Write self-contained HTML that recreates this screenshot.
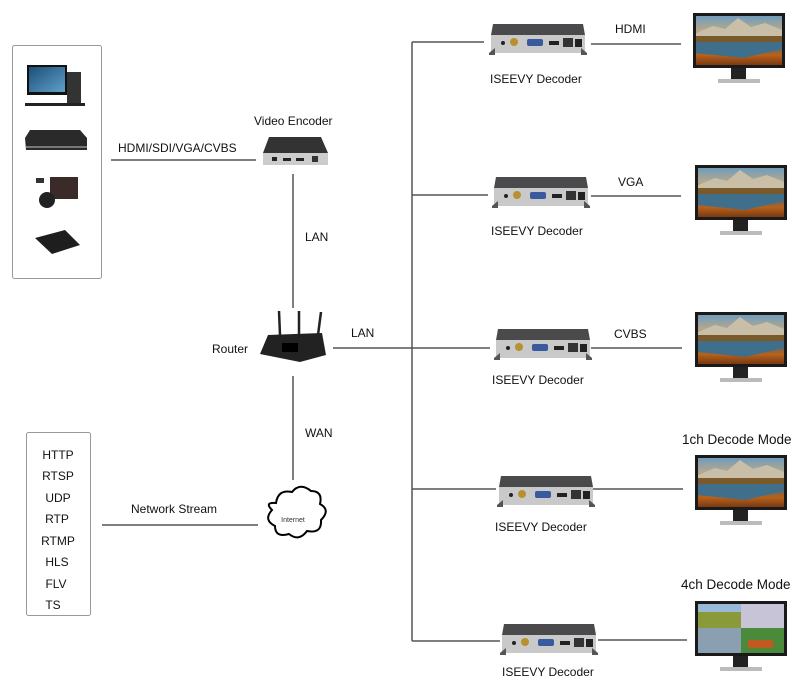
<!DOCTYPE html>
<html><head><meta charset="utf-8"><style>
html,body{margin:0;padding:0;background:#fff;}
svg{display:block;font-family:"Liberation Sans",Arial,sans-serif;}
</style></head><body>
<svg width="800" height="689" viewBox="0 0 800 689" xmlns="http://www.w3.org/2000/svg">
<defs>
  <linearGradient id="scr" x1="0" y1="0" x2="0" y2="1">
    <stop offset="0" stop-color="#6f9cbc"/>
    <stop offset="0.3" stop-color="#b9a98a"/>
    <stop offset="0.45" stop-color="#8a6a3a"/>
    <stop offset="0.6" stop-color="#3f6a80"/>
    <stop offset="0.8" stop-color="#b8621c"/>
    <stop offset="1" stop-color="#7a3a12"/>
  </linearGradient>
  <linearGradient id="pc" x1="0" y1="0" x2="1" y2="1">
    <stop offset="0" stop-color="#1c4f7a"/><stop offset="1" stop-color="#5fa0c8"/>
  </linearGradient>
  <g id="dec">
    <polygon points="4,0 94,0 96,11 2,11" fill="#4a4a4c"/>
    <rect x="2" y="11" width="94" height="18" fill="#c9c9c9"/>
    <polygon points="0,29 6,24 6,31 0,31" fill="#555"/>
    <polygon points="98,29 92,24 92,31 98,31" fill="#555"/>
    <circle cx="14" cy="19" r="2" fill="#222"/>
    <circle cx="25" cy="18" r="4" fill="#b89030"/>
    <rect x="38" y="15" width="16" height="7" rx="2" fill="#3a5aa0"/>
    <rect x="60" y="17" width="10" height="4" fill="#222"/>
    <rect x="74" y="14" width="10" height="9" fill="#333"/>
    <rect x="86" y="15" width="7" height="8" fill="#222"/>
  </g>
  <g id="mon">
    <rect x="0" y="0" width="92" height="55" fill="#1a1a1a"/>
    <rect x="3" y="3" width="86" height="49" fill="url(#scr)"/>
    <polygon points="3,20 20,13 32,16 45,5 58,14 72,10 89,17 89,23 3,23" fill="#c9bfa8"/>
    <rect x="3" y="23" width="86" height="6" fill="#7a5a2a"/>
    <polygon points="3,29 89,29 89,36 50,45 3,40" fill="#3f6f8a"/>
    <rect x="38" y="55" width="15" height="12" fill="#222"/>
    <rect x="25" y="66" width="42" height="4" fill="#bbb"/>
  </g>
</defs>

<g stroke="#555" stroke-width="1.5" fill="none">
  <line x1="111" y1="160" x2="256" y2="160"/>
  <line x1="293" y1="174" x2="293" y2="308"/>
  <line x1="293" y1="376" x2="293" y2="480"/>
  <line x1="333" y1="348" x2="412" y2="348"/>
  <line x1="412" y1="42" x2="412" y2="641"/>
  <line x1="412" y1="42" x2="484" y2="42"/>
  <line x1="412" y1="195" x2="488" y2="195"/>
  <line x1="412" y1="348" x2="490" y2="348"/>
  <line x1="412" y1="489" x2="496" y2="489"/>
  <line x1="412" y1="641" x2="500" y2="641"/>
  <line x1="591" y1="44" x2="681" y2="44"/>
  <line x1="591" y1="196" x2="681" y2="196"/>
  <line x1="591" y1="348" x2="682" y2="348"/>
  <line x1="593" y1="489" x2="683" y2="489"/>
  <line x1="598" y1="640" x2="687" y2="640"/>
  <line x1="102" y1="525" x2="258" y2="525"/>
</g>

<!-- source box -->
<rect x="12.5" y="45.5" width="89" height="233" fill="none" stroke="#999" rx="2"/>
<rect x="27" y="65" width="40" height="30" fill="#111"/>
<rect x="29" y="67" width="36" height="25" fill="url(#pc)"/>
<rect x="67" y="72" width="14" height="32" fill="#333"/>
<rect x="25" y="103" width="60" height="3" fill="#222"/>
<polygon points="30,130 80,130 87,138 87,150 26,150 25,138" fill="#2a2a2a"/>
<rect x="26" y="146" width="61" height="2" fill="#777"/>
<rect x="36" y="178" width="8" height="5" fill="#333"/>
<rect x="50" y="177" width="28" height="22" fill="#3a2a28"/>
<circle cx="47" cy="200" r="8" fill="#222"/>
<polygon points="35,238 65,230 80,245 52,254" fill="#1e1e1e"/>

<!-- encoder -->
<polygon points="269,137 321,137 328,153 263,153" fill="#333"/>
<rect x="263" y="153" width="65" height="12" fill="#ccc"/>
<rect x="272" y="157" width="5" height="4" fill="#222"/>
<rect x="283" y="158" width="8" height="3" fill="#222"/>
<rect x="296" y="158" width="8" height="3" fill="#222"/>
<rect x="312" y="156" width="6" height="6" fill="#333"/>

<!-- router -->
<g stroke="#222" stroke-width="2.5"><line x1="280" y1="335" x2="279" y2="311"/><line x1="299" y1="335" x2="299" y2="311"/><line x1="318" y1="335" x2="321" y2="312"/></g>
<polygon points="268,335 322,333 326,355 300,362 260,354" fill="#222"/>
<rect x="282" y="343" width="16" height="9" fill="#000"/>

<!-- cloud -->
<path d="M276,503 q2,-14 16,-11 q8,-10 19,-1 q12,0 9,13 q11,6 1,16 q1,14 -14,11 q-8,11 -18,3 q-14,4 -14,-8 q-12,-6 -3,-16 q-8,-8 4,-7z" fill="#fff" stroke="#000" stroke-width="2"/>
<text x="293" y="522" font-size="7" text-anchor="middle" fill="#333">Internet</text>

<!-- protocol box -->
<rect x="26.5" y="432.5" width="64" height="183" fill="none" stroke="#999" rx="2"/>
<g font-size="12" fill="#111" text-anchor="middle">
<text x="58" y="459">HTTP</text><text x="58" y="480">RTSP</text><text x="58" y="502">UDP</text>
<text x="57" y="523">RTP</text><text x="58" y="545">RTMP</text><text x="57" y="566">HLS</text>
<text x="56" y="588">FLV</text><text x="53" y="609">TS</text>
</g>

<g font-size="12" fill="#111">
<text x="118" y="152">HDMI/SDI/VGA/CVBS</text>
<text x="254" y="125">Video Encoder</text>
<text x="305" y="241">LAN</text>
<text x="212" y="353">Router</text>
<text x="351" y="337">LAN</text>
<text x="305" y="437">WAN</text>
<text x="131" y="513">Network Stream</text>
<text x="615" y="33">HDMI</text>
<text x="618" y="186">VGA</text>
<text x="614" y="338">CVBS</text>
<text x="490" y="83">ISEEVY Decoder</text>
<text x="491" y="235">ISEEVY Decoder</text>
<text x="492" y="384">ISEEVY Decoder</text>
<text x="495" y="531">ISEEVY Decoder</text>
<text x="502" y="676">ISEEVY Decoder</text>
</g>
<g font-size="13.5" fill="#111">
<text x="682" y="444">1ch Decode Mode</text>
<text x="681" y="589">4ch Decode Mode</text>
</g>

<use href="#dec" x="489" y="24"/>
<use href="#dec" x="492" y="177"/>
<use href="#dec" x="494" y="329"/>
<use href="#dec" x="497" y="476"/>
<use href="#dec" x="500" y="624"/>

<use href="#mon" x="693" y="13"/>
<use href="#mon" x="695" y="165"/>
<use href="#mon" x="695" y="312"/>
<use href="#mon" x="695" y="455"/>
<use href="#mon" x="695" y="601"/>
<!-- quad screen -->
<rect x="698" y="604" width="43" height="24" fill="#8a9a3a"/>
<rect x="741" y="604" width="43" height="24" fill="#c8c4d8"/>
<rect x="698" y="628" width="43" height="25" fill="#8aa0b0"/>
<rect x="741" y="628" width="43" height="25" fill="#4a8a3a"/>
<rect x="698" y="604" width="43" height="8" fill="#9ab8d8"/>
<rect x="748" y="640" width="25" height="8" fill="#c05a20"/>
</svg>
</body></html>
